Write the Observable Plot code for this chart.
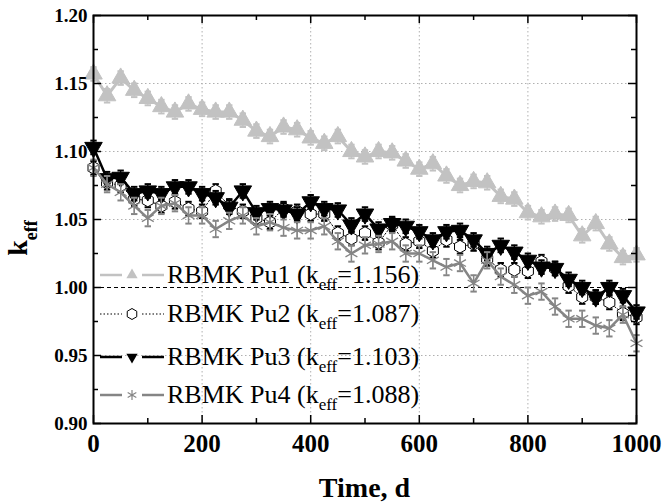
<!DOCTYPE html>
<html><head><meta charset="utf-8">
<script src="https://cdn.jsdelivr.net/npm/d3@7"></script>
<script src="https://cdn.jsdelivr.net/npm/@observablehq/plot@0.6"></script>
<style>body{margin:0;background:#fff}#chart{width:662px;height:503px}</style>
</head><body><div id="chart"></div>
<script>
const times = [0,25,50,75,100,125,150,175,200,225,250,275,300,325,350,375,400,425,450,475,500,525,550,575,600,625,650,675,700,725,750,775,800,825,850,875,900,925,950,975,1000];
const pu1 = [1.157,1.141,1.154,1.145,1.139,1.133,1.129,1.135,1.131,1.129,1.129,1.123,1.115,1.111,1.118,1.116,1.110,1.106,1.111,1.100,1.096,1.100,1.099,1.093,1.087,1.091,1.082,1.075,1.078,1.077,1.067,1.065,1.055,1.052,1.054,1.053,1.038,1.047,1.032,1.022,1.024];
const pu2 = [1.088,1.077,1.075,1.065,1.064,1.060,1.063,1.058,1.056,1.071,1.060,1.056,1.051,1.048,1.058,1.056,1.054,1.054,1.040,1.036,1.040,1.033,1.046,1.032,1.034,1.027,1.035,1.030,1.032,1.021,1.013,1.013,1.012,1.019,1.014,1.001,0.993,0.993,0.989,0.981,0.978];
const pu3 = [1.103,1.080,1.081,1.069,1.071,1.069,1.074,1.074,1.069,1.066,1.059,1.071,1.055,1.058,1.057,1.054,1.063,1.058,1.057,1.046,1.054,1.043,1.047,1.045,1.041,1.035,1.041,1.042,1.035,1.025,1.031,1.026,1.020,1.015,1.014,1.006,1.000,0.993,1.000,0.994,0.982];
const pu4 = [1.088,1.076,1.070,1.060,1.051,1.060,1.062,1.053,1.053,1.043,1.049,1.053,1.045,1.048,1.044,1.042,1.042,1.045,1.034,1.025,1.031,1.032,1.034,1.025,1.025,1.020,1.015,1.018,1.003,1.020,1.008,1.002,0.994,0.997,0.986,0.977,0.977,0.972,0.970,0.980,0.959];
const seriesNames = ["RBMK Pu1","RBMK Pu2","RBMK Pu3","RBMK Pu4"];
const keffInitial = ["1.156","1.087","1.103","1.088"];
const errors = [0.005,0.005,0.005,0.006];
const xTicks = [0,200,400,600,800,1000];
const xMinor = [100,300,500,700,900];
const yTicks = [0.90,0.95,1.00,1.05,1.10,1.15,1.20];
const yMinor = [0.925,0.975,1.025,1.075,1.125,1.175];
const refLine = [1.00];
const xLabel = "Time, d";

const W = 662, H = 503, mL = 93, mR = 26, mT = 15, mB = 80;
const pw = W - mL - mR, ph = H - mT - mB;
const styles = [
  {color:"#c2c2c2", sw:3, dash:null, symbol:"triangle", rotate:0, fill:"#c2c2c2", stroke:"#c2c2c2", r:6.5},
  {color:"#000", sw:1, dash:"1.5,2", symbol:"hexagon", rotate:0, fill:"white", stroke:"#000", r:5.5},
  {color:"#000", sw:2.5, dash:null, symbol:"triangle", rotate:180, fill:"#000", stroke:"#000", r:6.5},
  {color:"#858585", sw:2.5, dash:null, symbol:"asterisk", rotate:0, fill:"none", stroke:"#858585", r:6.5}
];
const allSeries = [pu1, pu2, pu3, pu4];
const capSymbol = {draw(ctx, size){const r = Math.sqrt(size/Math.PI); ctx.moveTo(-r,0); ctx.lineTo(r,0);}};

const marks = [
  Plot.ruleX(xTicks.slice(1,-1), {stroke:"#b0b0b0", strokeDasharray:"1.5,2.5", strokeWidth:1}),
  Plot.ruleY(yTicks.filter(v => v > 0.9 && v < 1.2 && v !== 1.0), {stroke:"#b0b0b0", strokeDasharray:"1.5,2.5", strokeWidth:1}),
  Plot.ruleY(refLine, {stroke:"#000", strokeDasharray:"4,3", strokeWidth:1.2}),
];
allSeries.forEach((vals, i) => {
  const s = styles[i];
  const rows = times.map((t, j) => ({t, v: vals[j], e: errors[i]}));
  marks.push(Plot.line(rows, {x:"t", y:"v", stroke:s.color, strokeWidth:s.sw, strokeDasharray:s.dash}));
  marks.push(Plot.ruleX(rows, {x:"t", y1:d=>d.v-d.e, y2:d=>d.v+d.e, stroke:s.color, strokeWidth:1.3}));
  marks.push(Plot.dot(rows, {x:"t", y:d=>d.v+d.e, symbol:capSymbol, r:3.2, stroke:s.color, fill:"none", strokeWidth:2}));
  marks.push(Plot.dot(rows, {x:"t", y:d=>d.v-d.e, symbol:capSymbol, r:3.2, stroke:s.color, fill:"none", strokeWidth:2}));
  marks.push(Plot.dot(rows, {x:"t", y:"v", symbol:s.symbol, r:s.r, rotate:s.rotate, fill:s.fill, stroke:s.stroke, strokeWidth: i===3 ? 1.3 : 1}));
});
// inward ticks
marks.push(
  Plot.ruleX(xTicks, {insetTop: ph-8, stroke:"#000", strokeWidth:1.5}),
  Plot.ruleX(xMinor, {insetTop: ph-5, stroke:"#000", strokeWidth:1.5}),
  Plot.ruleX(xTicks, {insetBottom: ph-8, stroke:"#000", strokeWidth:1.5}),
  Plot.ruleX(xMinor, {insetBottom: ph-5, stroke:"#000", strokeWidth:1.5}),
  Plot.ruleY(yTicks, {insetRight: pw-8, stroke:"#000", strokeWidth:1.5}),
  Plot.ruleY(yMinor, {insetRight: pw-5, stroke:"#000", strokeWidth:1.5}),
  Plot.ruleY(yTicks, {insetLeft: pw-8, stroke:"#000", strokeWidth:1.5}),
  Plot.ruleY(yMinor, {insetLeft: pw-5, stroke:"#000", strokeWidth:1.5}),
  Plot.frame({stroke:"#000", strokeWidth:2}),
  Plot.axisY(yTicks, {tickSize:0, tickPadding:6, tickFormat:d3.format(".2f"), fontSize:19, fontWeight:"bold", label:null}),
  Plot.axisX(xTicks, {tickSize:0, tickPadding:11, tickFormat:d => String(d), fontSize:25, fontWeight:"bold", label:null})
);

const chart = Plot.plot({
  width: W, height: H,
  marginLeft: mL, marginRight: mR, marginTop: mT, marginBottom: mB,
  style: {fontFamily: "'Liberation Serif', 'Times New Roman', serif", color:"#000", background:"#fff", overflow:"visible"},
  x: {domain:[0,1000]},
  y: {domain:[0.90,1.20]},
  marks
});
document.getElementById("chart").appendChild(chart);

const svg = d3.select(chart);
const serif = "'Liberation Serif', 'Times New Roman', serif";
// x label
svg.append("text").attr("x", mL + pw/2).attr("y", 497).attr("text-anchor","middle")
  .attr("font-size", 28).attr("font-weight","bold").attr("font-family",serif).attr("fill","#000").text(xLabel);
// y label
const yl = svg.append("text").attr("transform", "translate(27,238) rotate(-90)").attr("text-anchor","middle")
  .attr("font-family",serif).attr("fill","#000");
yl.append("tspan").attr("font-size", 28).attr("font-weight","bold").text("k");
yl.append("tspan").attr("font-size", 18).attr("font-weight","bold").attr("dy", 10).text("eff");

// legend
const legY = [275, 314, 357, 395];
const hexPath = r => { let p = ""; for (let k = 0; k < 6; k++) { const a = Math.PI/3*k + Math.PI/6; p += (k ? "L" : "M") + (r*Math.cos(a)).toFixed(2) + "," + (r*Math.sin(a)).toFixed(2); } return p + "Z"; };
const leg = svg.append("g").attr("text-anchor","start");
seriesNames.forEach((name, i) => {
  const s = styles[i], y = legY[i];
  const g = leg.append("g");
  [[100,122],[142,164]].forEach(([a,b]) => {
    const ln = g.append("line").attr("x1",a).attr("x2",b).attr("y1",y).attr("y2",y)
      .attr("stroke", s.color).attr("stroke-width", i===1 ? 1.2 : 2.5);
    if (s.dash) ln.attr("stroke-dasharray", s.dash);
  });
  const mg = g.append("g").attr("transform", `translate(132,${y}) rotate(${s.rotate})`);
  if (s.symbol === "hexagon") mg.append("path").attr("d", hexPath(5.5)).attr("fill","white").attr("stroke","#000").attr("stroke-width",1);
  else if (s.symbol === "triangle") mg.append("path").attr("d", d3.symbol(d3.symbolTriangle, 55)()).attr("fill", s.fill);
  else mg.append("path").attr("d", d3.symbol(d3.symbolAsterisk, 70)()).attr("fill","none").attr("stroke", s.stroke).attr("stroke-width",1.2);
  const t = g.append("text").attr("x",167).attr("y",y+8).attr("text-anchor","start").attr("font-size",26).attr("font-family",serif).attr("fill","#000");
  t.append("tspan").text(name + " (k");
  t.append("tspan").attr("font-size",17).attr("dy",7).text("eff");
  t.append("tspan").attr("dy",-7).text("=" + keffInitial[i] + ")");
});
</script></body></html>
